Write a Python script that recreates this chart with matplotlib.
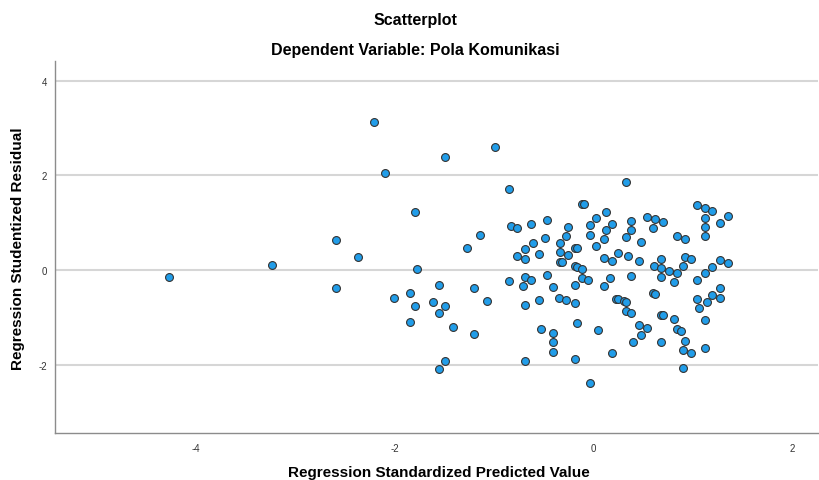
import matplotlib
matplotlib.use("Agg")
import matplotlib.pyplot as plt

plt.rcParams['font.family'] = ['Liberation Sans', 'DejaVu Sans']
plt.rcParams['axes.unicode_minus'] = False

# --- datos (predicho estandarizado, residuo studentizado) ---
pred_x = [
    -4.27, -3.24, -2.59, -2.59, -2.37, -2.21, -2.10, -2.01, -1.85, -1.85,
    -1.80, -1.78, -1.80, -1.62, -1.56, -1.56, -1.50, -1.50, -1.50, -1.42,
    -1.56, -1.28, -1.20, -1.20, -1.14, -0.99,
    # cluster superior
    -0.85, 0.32, -0.12, -0.10, 0.12, 0.02, -0.47, -0.63, -0.83, -0.77,
    -0.26, -0.04, 0.18, 0.38, 0.54, 0.12, 0.38, -0.04, -0.28, -0.49,
    0.32, 0.10, -0.61, -0.34, 0.48, 0.02, -0.69, -0.19, -0.17, -0.34,
    0.24, -0.55, -0.77, -0.26, -0.69, 0.10, 0.18, 0.34, 0.46, -0.34,
    -0.32, -0.19, -0.17, -0.12,
    # cluster inferior
    -0.85, -0.69, -0.63, -0.71, -0.47, -0.41, -0.12, -0.06, -0.19, 0.16,
    0.10, 0.38, -1.07, -0.69, -0.55, -0.35, -0.28, -0.19, 0.22, 0.24,
    0.30, 0.32, 0.32, 0.38, -0.17, -0.53, -0.41, -0.41, -0.41, 0.04,
    0.46, 0.54, 0.48, 0.40, 0.18, -0.19, -0.69, -0.04,
    # derecha arriba
    1.04, 1.12, 1.19, 1.12, 1.35, 1.27, 1.12, 1.12, 0.62, 0.70,
    0.60, 0.84, 0.92, 0.68, 0.92, 0.98, 1.27, 1.35, 0.61, 0.68,
    0.76, 0.90, 1.19, 0.84, 1.12, 0.68, 0.81, 1.04, 1.27,
    # derecha abajo
    0.60, 0.62, 1.19, 1.27, 1.04, 1.14, 1.06, 0.68, 0.70, 0.81,
    1.12, 0.84, 0.88, 0.68, 0.92, 0.90, 0.98, 1.12, 0.90,
]
resid_y = [
    -0.15, 0.11, 0.63, -0.37, 0.27, 3.13, 2.05, -0.58, -0.49, -1.09,
    1.23, 0.03, -0.75, -0.67, -0.90, -2.08, -1.93, 2.39, -0.75, -1.20,
    -0.31, 0.46, -0.37, -1.35, 0.74, 2.60,
    # cluster superior
    1.71, 1.86, 1.39, 1.39, 1.23, 1.10, 1.06, 0.97, 0.93, 0.88,
    0.91, 0.95, 0.98, 1.04, 1.12, 0.84, 0.85, 0.74, 0.72, 0.68,
    0.69, 0.65, 0.58, 0.57, 0.59, 0.51, 0.44, 0.47, 0.46, 0.38,
    0.35, 0.33, 0.30, 0.32, 0.24, 0.26, 0.20, 0.29, 0.20, 0.18,
    0.17, 0.08, 0.07, 0.03,
    # cluster inferior
    -0.23, -0.14, -0.20, -0.33, -0.11, -0.35, -0.17, -0.22, -0.31, -0.17,
    -0.33, -0.13, -0.66, -0.74, -0.64, -0.59, -0.64, -0.70, -0.61, -0.61,
    -0.66, -0.68, -0.87, -0.91, -1.11, -1.25, -1.33, -1.52, -1.72, -1.26,
    -1.16, -1.22, -1.38, -1.52, -1.76, -1.87, -1.92, -2.38,
    # derecha arriba
    1.37, 1.30, 1.24, 1.10, 1.14, 0.99, 0.91, 0.72, 1.07, 1.02,
    0.89, 0.72, 0.66, 0.24, 0.28, 0.23, 0.22, 0.15, 0.09, 0.04,
    -0.01, 0.09, 0.06, -0.07, -0.07, -0.15, -0.25, -0.20, -0.37,
    # derecha abajo
    -0.48, -0.50, -0.52, -0.58, -0.61, -0.68, -0.81, -0.94, -0.95, -1.03,
    -1.05, -1.24, -1.29, -1.51, -1.49, -1.68, -1.75, -1.64, -2.07,
]

x_ticks = [-4, -2, 0, 2]
y_ticks = [-2, 0, 2, 4]

fig = plt.figure(figsize=(8.19, 4.81), dpi=100)
ax = fig.add_axes([0.0672, 0.0977, 0.932, 0.774])

ax.scatter(pred_x, resid_y, s=32, c='#219de9', edgecolors='#333333',
           linewidths=0.8, zorder=3)

ax.set_xlim(-5.42, 2.26)
ax.set_ylim(-3.44, 4.42)
ax.set_xticks(x_ticks)
ax.set_yticks(y_ticks)
ax.tick_params(length=0, labelsize=7, colors='#333333')
ax.tick_params(axis='y', pad=6)
ax.tick_params(axis='x', pad=7)

# solo lineas horizontales de referencia
ax.yaxis.grid(True, color='#d6d6d6', linewidth=1.5)
ax.set_axisbelow(True)
for side in ['top', 'right']:
    ax.spines[side].set_visible(False)
for side in ['left', 'bottom']:
    ax.spines[side].set_color('#8c8c8c')
    ax.spines[side].set_linewidth(1.0)

# etiquetas de ejes y titulos en coordenadas de figura
fig.text(0.536, 1 - 477 / 481, 'Regression Standardized Predicted Value',
         ha='center', va='baseline', fontsize=11, fontweight='bold')
fig.text(18.5 / 819, 0.484, 'Regression Studentized Residual', ha='center',
         va='center', rotation=90, fontsize=11, fontweight='bold')

fig.text(0.507, 1 - 21 / 481, 'Scatterplot', ha='center', va='center',
         fontsize=11.5, fontweight='bold')
fig.text(0.507, 1 - 50 / 481, 'Dependent Variable: Pola Komunikasi',
         ha='center', va='center', fontsize=11.5, fontweight='bold')

fig.savefig('out.png', dpi=100)
plt.close(fig)
